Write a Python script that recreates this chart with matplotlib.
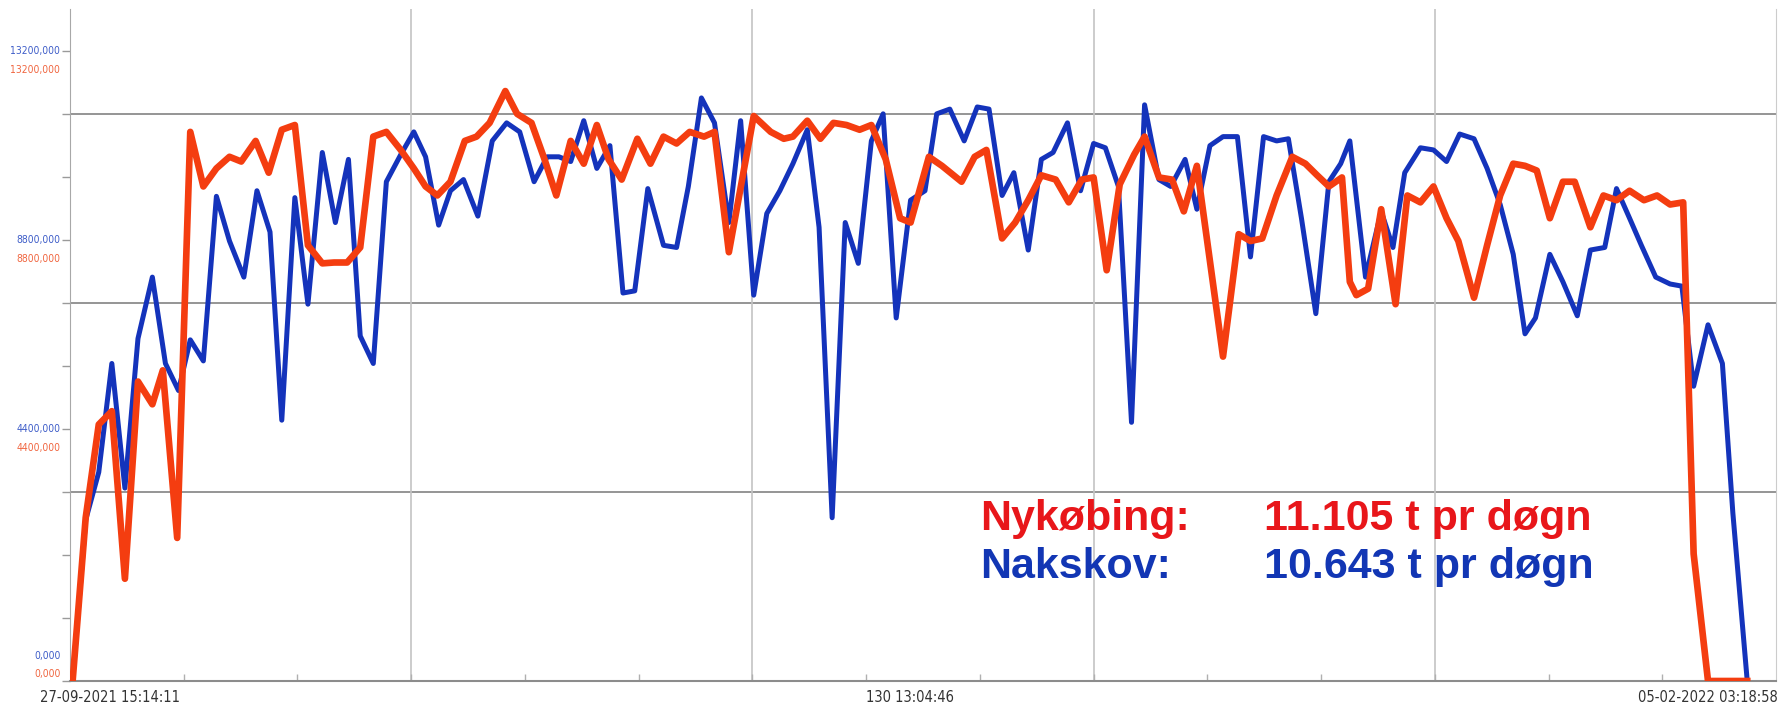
import matplotlib
matplotlib.use("Agg")
import matplotlib.pyplot as plt
from matplotlib import font_manager
from matplotlib.font_manager import FontProperties

# x: days since 27-09-2021 15:14:11, y: the chart's own units (grid at 4400 steps)
nyk_days = [0.2, 1.2, 2.2, 3.2, 4.2, 5.2, 6.3, 7.1, 8.2, 9.2,
            10.2, 11.2, 12.2, 13.1, 14.2, 15.2, 16.2, 17.2, 18.2, 19.3,
            20.2, 21.2, 22.2, 23.2, 24.2, 25.3, 26.3, 27.2, 28.1, 29.1,
            30.2, 31.1, 32.1, 33.3, 34.2, 35.3, 36.3, 37.2, 38.3, 39.3,
            40.3, 41.2, 42.2, 43.4, 44.4, 45.4, 46.4, 47.4, 48.5, 49.3,
            50.4, 52.3, 53.6, 54.6, 55.3, 56.4, 57.4, 58.4, 59.4, 60.4,
            61.3, 62.4, 63.5,
            64.3, 65.7, 66.7, 68.2, 69.2, 70.1, 71.3, 72.3, 73.3, 74.3,
            75.4, 76.4, 77.4, 78.3, 79.3, 80.3, 81.4, 82.2, 83.3, 84.3,
            85.2, 86.2, 88.2, 89.4, 90.3, 91.2, 92.3, 93.5, 94.5, 95.4,
            96.3, 97.3, 97.9,
            98.4, 99.3, 100.3, 101.4, 102.3, 103.3, 104.3, 105.3, 106.2, 107.4,
            108.4, 109.4, 110.4, 111.3, 112.2, 113.2, 114.2, 115.1, 116.3, 117.3,
            118.3, 119.3, 120.4, 121.4, 122.4, 123.4, 124.2, 125.3, 128.3]
nyk_vals = [0, 3800, 5970, 6280, 2380, 6970, 6440, 7230, 3330, 12780,
            11510, 11930, 12200, 12090, 12570, 11830, 12830, 12940, 10140, 9720,
            9740, 9740, 10090, 12670, 12780, 12360, 11930, 11510, 11300, 11620,
            12570, 12670, 12990, 13730, 13200, 12990, 12140, 11300, 12570, 12040,
            12940, 12140, 11670, 12620, 12040, 12670, 12510, 12780, 12670, 12780,
            9980, 13150, 12780, 12620, 12670, 13040, 12620, 12990, 12940, 12830,
            12940, 12140, 10770,
            10670, 12200, 11990, 11620, 12200, 12360, 10300, 10670, 11190, 11770,
            11670, 11140, 11670, 11720, 9560, 11560, 12250, 12670, 11720, 11670,
            10930, 11990, 7550, 10400, 10240, 10300, 11300, 12200, 12040, 11770,
            11510, 11720, 9290,
            8980, 9130, 10980, 8770, 11300, 11140, 11510, 10770, 10240, 8920,
            10140, 11300, 12040, 11990, 11880, 10770, 11620, 11620, 10560, 11300,
            11190, 11410, 11190, 11300, 11090, 11140, 2960, 0, 0]

nak_days = [0.2, 1.2, 2.2, 3.2, 4.2, 5.2, 6.3, 7.3, 8.3, 9.2,
            10.2, 11.2, 12.2, 13.3, 14.3, 15.3, 16.2, 17.2, 18.2, 19.3,
            20.3, 21.3, 22.2, 23.2, 24.2, 25.3, 26.3, 27.2, 28.2, 29.1,
            30.1, 31.2, 32.3, 33.4, 34.4, 35.5, 36.5, 37.4, 38.3, 39.3,
            40.3, 41.3, 42.3, 43.2, 44.2, 45.4, 46.4, 47.3, 48.3, 49.3,
            50.4, 51.3, 52.3, 53.3, 54.3, 55.3, 56.4, 57.3, 58.3, 59.3,
            60.3, 61.3, 62.2, 63.2,
            64.3, 65.4, 66.3, 67.3, 68.4, 69.4, 70.3, 71.3, 72.2, 73.3,
            74.3, 75.2, 76.3, 77.3, 78.3, 79.2, 80.2, 81.2, 82.2, 83.3,
            84.2, 85.3, 86.2, 87.2, 88.2, 89.3, 90.3, 91.3, 92.3, 93.2,
            94.2, 95.3, 96.3, 97.2, 97.9,
            99.1, 100.3, 101.2, 102.1, 103.3, 104.3, 105.3, 106.3, 107.4, 108.4,
            109.4, 110.4, 111.3, 112.1, 113.2, 114.2, 115.3, 116.3, 117.4, 118.3,
            119.3, 120.2, 121.3, 122.4, 123.3, 124.2, 125.3, 126.4, 127.2, 128.3]
nak_vals = [0, 3750, 4860, 7390, 4490, 7970, 9400, 7390, 6760, 7940,
            7450, 11280, 10240, 9400, 11410, 10450, 6070, 11250, 8770, 12300,
            10670, 12140, 8030, 7390, 11620, 12250, 12780, 12200, 10610, 11410,
            11670, 10820, 12570, 12990, 12780, 11620, 12200, 12200, 12090, 13040,
            11930, 12460, 9030, 9080, 11460, 10140, 10090, 11510, 13570, 12990,
            10670, 13040, 8980, 10880, 11410, 12040, 12830, 10560, 3800, 10670,
            9720, 12570, 13200, 8450,
            11190, 11410, 13200, 13310, 12570, 13360, 13310, 11300, 11830, 10030,
            12140, 12300, 12990, 11410, 12510, 12410, 11510, 6020, 13410, 11670,
            11510, 12140, 10980, 12460, 12670, 12670, 9870, 12670, 12570, 12620,
            10770, 8550, 11620, 12040, 12570,
            9400, 10930, 10090, 11830, 12410, 12360, 12090, 12730, 12620, 11930,
            11090, 9930, 8080, 8450, 9930, 9290, 8500, 10030, 10090, 11460,
            10770, 10140, 9400, 9240, 9190, 6860, 8290, 7390, 3910, 0]

x_span = 130.5  # 27-09-2021 15:14:11 -> 05-02-2022 03:18:58
y_top = 15640
y_step = 4400 / 3
grid_vals = [4400, 8800, 13200]
ylabel_steps = [10, 7, 4]
ylabel_text = ["13200,000", "8800,000", "4400,000"]
x_labels = ["27-09-2021 15:14:11", "130 13:04:46", "05-02-2022 03:18:58"]
summary_names = ["Nykøbing:", "Nakskov:"]
summary_vals = ["11.105 t pr døgn", "10.643 t pr døgn"]

RED = "#f43d10"
BLUE = "#1433bb"
RED_TXT = "#e8161a"
BLUE_TXT = "#1236b4"


def find_narrow():
    # look for a condensed sans face, the reference axis text is narrow
    prefs = ["liberationsansnarrow-regular", "dejavusanscondensed.", "robotocondensed-regular",
             "opensans_condensed-regular", "notosans-condensed.", "notosanscondensed-regular"]
    files = [f.fname for f in font_manager.fontManager.ttflist]
    for p in prefs:
        for fn in files:
            if p in fn.lower().replace(" ", ""):
                return fn
    for fn in files:
        low = fn.lower()
        if ("narrow" in low or "condensed" in low) and "bold" not in low and "italic" not in low \
                and "oblique" not in low and "light" not in low:
            return fn
    return None


narrow_file = find_narrow()


def narrow_font(size):
    if narrow_file:
        return FontProperties(fname=narrow_file, size=size)
    return FontProperties(family="Liberation Sans", size=size * 0.82)


W, H = 1785, 711
fig = plt.figure(figsize=(W / 100, H / 100), dpi=100)
ax = fig.add_axes([70 / W, 30 / H, 1706 / W, 672 / H])

for v in grid_vals:
    ax.axhline(v, color="#8c8c8c", lw=1.3, zorder=1)
for k in range(1, 5):
    ax.axvline(k * x_span / 5, color="#c4c4c4", lw=1.2, zorder=1)

ax.plot(nak_days, nak_vals, color=BLUE, lw=3.6, zorder=3, solid_joinstyle="round")
ax.plot(nyk_days, nyk_vals, color=RED, lw=4.8, zorder=4, solid_joinstyle="round")

ax.set_xlim(0, x_span)
ax.set_ylim(0, y_top)
ax.set_yticks([i * y_step for i in range(11)])
ax.set_yticklabels([])
ax.set_xticks([i * x_span / 15 for i in range(1, 15)])
ax.set_xticklabels([])
ax.tick_params(axis="y", direction="out", length=6, width=1, color="#9a9a9a")
ax.tick_params(axis="x", direction="in", length=5, width=1, color="#b0b0b0")

ax.spines["top"].set_visible(False)
ax.spines["left"].set_color("#a8a8a8")
ax.spines["right"].set_color("#cccccc")
ax.spines["bottom"].set_color("#8c8c8c")
ax.spines["bottom"].set_linewidth(1.5)

ytr = ax.get_yaxis_transform()
for step, txt in zip(ylabel_steps, ylabel_text):
    ax.annotate(txt, xy=(0, step * y_step), xycoords=ytr, xytext=(-7, 0),
                textcoords="offset points", ha="right", va="center",
                color="#3d5cc8", fontproperties=narrow_font(7.4))
    ax.annotate(txt, xy=(0, step * y_step), xycoords=ytr, xytext=(-7, -14),
                textcoords="offset points", ha="right", va="center",
                color="#f0653f", fontproperties=narrow_font(7.4))
ax.annotate("0,000", xy=(0, 0), xycoords=ytr, xytext=(-7, 18),
            textcoords="offset points", ha="right", va="center",
            color="#3d5cc8", fontproperties=narrow_font(7.4))
ax.annotate("0,000", xy=(0, 0), xycoords=ytr, xytext=(-7, 5),
            textcoords="offset points", ha="right", va="center",
            color="#f0653f", fontproperties=narrow_font(7.4))

xl_y = (H - 697) / H
fig.text(110 / W, xl_y, x_labels[0], ha="center", va="center", color="#333333",
         fontproperties=narrow_font(10.5))
fig.text(910 / W, xl_y, x_labels[1], ha="center", va="center", color="#333333",
         fontproperties=narrow_font(10.5))
fig.text(1778 / W, xl_y, x_labels[2], ha="right", va="center", color="#333333",
         fontproperties=narrow_font(10.5))

for row, (name, val, col) in enumerate(zip(summary_names, summary_vals, [RED_TXT, BLUE_TXT])):
    yb = 3515 - row * 1120
    ax.text(69.6, yb, name, color=col, fontsize=31, fontweight="bold",
            family="Liberation Sans", va="baseline", zorder=5)
    ax.text(91.3, yb, val, color=col, fontsize=31, fontweight="bold",
            family="Liberation Sans", va="baseline", zorder=5)

fig.savefig("out.png", dpi=100, facecolor="white")
